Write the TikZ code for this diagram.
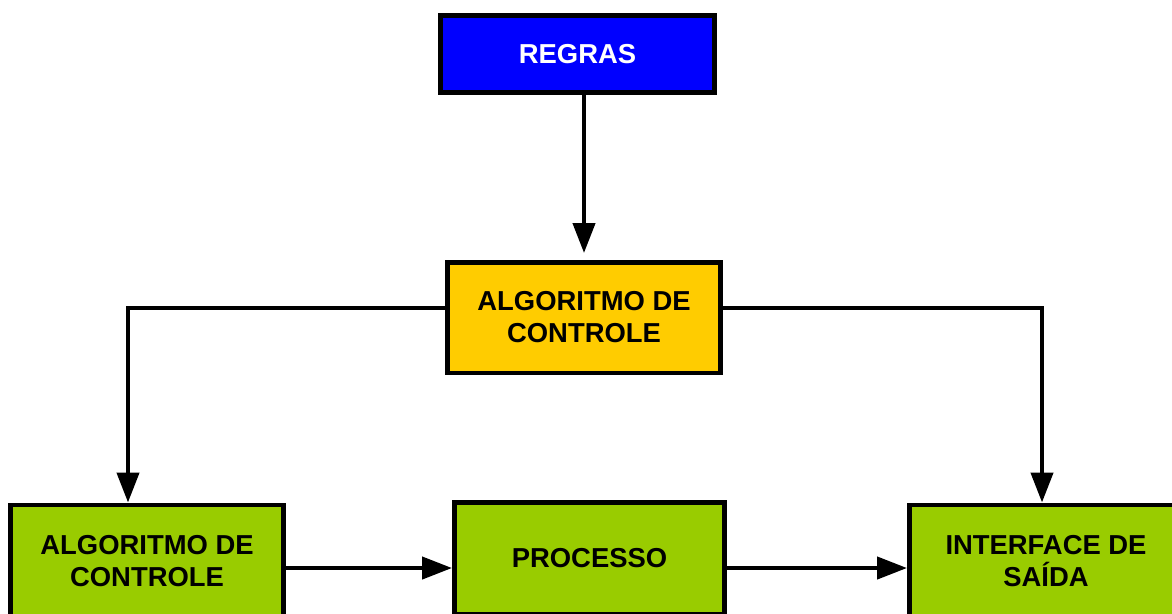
\documentclass[tikz,border=0pt]{standalone}
\usepackage{fontspec}
\setmainfont{Liberation Sans}
\usetikzlibrary{calc,positioning,arrows.meta,shapes}
\definecolor{regrasblue}{RGB}{0,0,255}
\definecolor{controlyellow}{RGB}{255,204,0}
\definecolor{plantgreen}{RGB}{153,204,0}
\tikzset{
  block/.style={draw,line width=0.09cm,rectangle,minimum width=5.47cm,minimum height=2.25cm,
    align=center,font=\fontsize{15.6}{18.2}\selectfont\bfseries},
  link/.style={line width=0.085cm,-{Triangle[length=0.6cm,width=0.44cm]}}
}

\begin{document}
\begin{tikzpicture}[x=0.02cm,y=-0.02cm]
  \useasboundingbox (0,0) rectangle (1172,613);
  \clip (0,0) rectangle (1172,613);

  \node [block,fill=regrasblue,text=white,minimum width=5.49cm,minimum height=1.55cm] at (577.5,54) (regras) {REGRAS};
  \node [block,fill=controlyellow,minimum height=2.21cm] at (584,317.5) (controle) {ALGORITMO DE\\CONTROLE};

  \node [block,fill=plantgreen] at (147,561) (algoritmo) {ALGORITMO DE\\CONTROLE};
  \node [block,fill=plantgreen,minimum width=5.41cm,minimum height=2.23cm] at (589.5,558) (processo) {PROCESSO};
  \node [block,fill=plantgreen] at (1046,561) (interface) {INTERFACE DE\\SAÍDA};

  \coordinate (leftcorner) at (128,308);
  \coordinate (rightcorner) at (1042,308);
  \coordinate (flowrow) at (0,568);

  \draw [link,shorten >=0.14cm] (regras.south -| controle.north) -- (controle.north);
  \draw [link] (controle.west |- leftcorner) -- (leftcorner) -- (leftcorner |- algoritmo.north);
  \draw [link] (controle.east |- rightcorner) -- (rightcorner) -- (rightcorner |- interface.north);

  \draw [link] (algoritmo.east |- flowrow) -- (processo.west |- flowrow);
  \draw [link] (processo.east |- flowrow) -- (interface.west |- flowrow);

\end{tikzpicture}
\end{document}
